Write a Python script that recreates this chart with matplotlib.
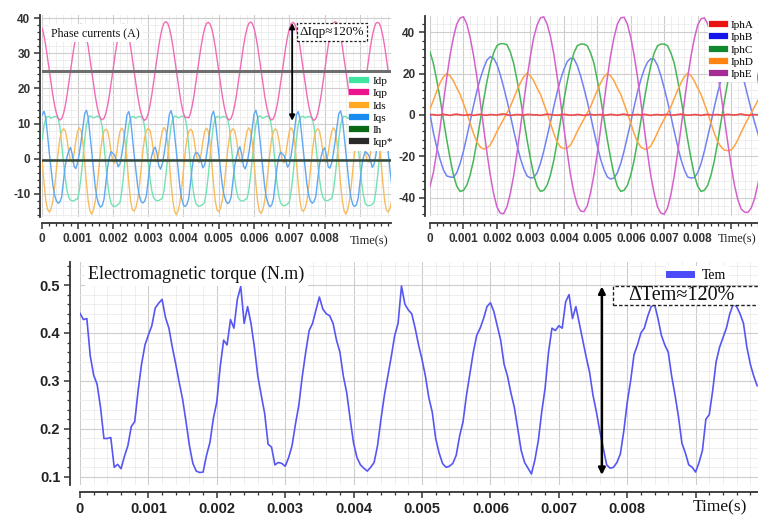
import numpy as np
import matplotlib
matplotlib.use('Agg')
import matplotlib.pyplot as plt
from matplotlib.lines import Line2D
from matplotlib.patches import Rectangle
from matplotlib.ticker import MultipleLocator, FuncFormatter
from matplotlib import font_manager as fm

plt.rcParams['axes.unicode_minus'] = False

# ---------------- data: top-left (dq currents), step 0.05 ms ----------------
DT_TL = 0.00005
iqp = [37.1, 34.9, 32.0, 28.6, 25.0, 21.4, 18.0, 15.1, 12.9, 11.5,
       11.0, 11.4, 12.8, 15.0, 18.0, 21.4, 25.0, 28.6, 31.9, 34.7, 36.9, 38.0, 38.3, 38.0, 36.9, 34.7, 31.9, 28.5, 24.9, 21.3, 17.9, 15.0, 12.8, 11.4,
       11.1, 11.5, 12.9, 15.1, 18.0, 21.4, 25.0, 28.6, 31.9, 34.7, 36.9, 38.0, 38.3, 38.0, 36.9, 34.8, 32.0, 28.6, 25.0, 21.4, 18.0, 15.1, 12.9, 11.5,
       10.9, 11.4, 12.8, 15.1, 18.0, 21.5, 25.1, 28.7, 32.1, 35.0, 37.3, 38.6, 39.0, 38.6, 37.2, 34.9, 32.0, 28.6, 25.0, 21.4, 18.0, 15.1, 12.9, 11.7,
       11.8, 11.6, 13.0, 15.2, 18.1, 21.5, 25.1, 28.7, 32.0, 34.9, 37.1, 38.5, 38.8, 38.4, 37.0, 34.8, 31.9, 28.5, 24.9, 21.3, 17.9, 15.0, 12.8, 11.4,
       11.0, 11.5, 12.9, 15.1, 18.0, 21.4, 25.0, 28.6, 32.0, 34.9, 37.1, 38.5, 38.9, 38.5, 37.1, 34.9, 32.0, 28.6, 25.0, 21.4, 18.0, 15.1, 12.9, 11.5,
       11.0, 11.4, 12.8, 15.0, 17.9, 21.3, 24.9, 28.5, 31.9, 34.8, 37.0, 38.4, 38.8, 38.4, 37.0, 34.8, 31.9, 28.5, 24.9, 21.3, 17.9, 15.0, 12.8, 11.4,
       10.9, 11.4, 12.8, 15.1, 18.0, 21.4, 25.0, 28.7, 32.1, 35.0, 37.2, 38.6, 39.0, 38.6, 37.2, 34.9, 32.0, 28.6, 25.0, 21.4, 18.0, 15.1, 12.9, 11.5,
       11.0, 11.5, 12.9, 15.1, 18.0, 21.4, 25.0, 28.6, 32.0, 34.9, 37.1, 38.5, 38.8, 38.5, 37.1, 34.9, 32.0, 28.6, 25.0, 21.4, 18.0]

iqs = [12.5,
       13.5, 11.5, 6.5, 1.5, -3.0, -7.5, -10.5, -12.0, -12.7, -12.3, -10.8, -6.5, -2.0, 0.5, 2.2, 3.2, 1.2, -2.2, -2.8, -1.2, 1.5, 5.0, 9.0, 12.8,
       13.8, 11.8, 7.0, 2.0, -3.0, -8.0, -11.2, -13.0, -13.8, -13.3, -11.5, -7.0, -2.5, 0.5, 2.0, 1.5, 1.0, -0.5, -2.3, -1.5, 1.0, 4.5, 8.5, 12.5,
       13.4, 11.3, 6.3, 1.3, -3.2, -7.6, -10.6, -12.2, -12.6, -12.1, -10.5, -6.2, -1.8, 0.8, 2.5, 3.3, 1.5, -2.0, -3.0, -1.5, 1.2, 4.8, 8.8, 12.6,
       13.7, 11.6, 6.8, 1.8, -3.3, -8.2, -11.4, -13.2, -13.6, -13.0, -11.2, -6.8, -2.2, 0.6, 1.8, 1.6, 0.8, -0.8, -2.6, -1.8, 0.8, 4.3, 8.3, 12.4,
       13.5, 11.4, 6.4, 1.4, -3.1, -7.5, -10.4, -12.0, -12.8, -12.4, -10.9, -6.6, -2.1, 0.4, 2.3, 3.4, 1.3, -2.1, -2.9, -1.3, 1.4, 4.9, 8.9, 12.7,
       13.8, 11.9, 7.1, 2.1, -2.9, -7.9, -11.1, -12.9, -13.7, -13.2, -11.4, -6.9, -2.4, 0.4, 1.9, 1.4, 0.9, -0.6, -2.4, -1.6, 0.9, 4.4, 8.4, 12.5,
       13.4, 11.5, 6.6, 1.6, -2.9, -7.4, -10.5, -12.1, -12.7, -12.2, -10.7, -6.4, -1.9, 0.6, 2.4, 3.1, 1.1, -2.3, -2.7, -1.1, 1.6, 5.1, 9.1, 12.8,
       13.6, 11.7, 6.9, 1.9, -3.1, -8.1, -11.3, -13.1, -13.6, -13.1, -11.3, -6.9, -2.3, 0.5, 2.0, 1.6, 1.0, -0.6, -2.5, -1.6, 0.9, 4.5, 8.5, 12.6,
       13.4, 11.4, 6.5, 1.5, -3.0, -7.4]

idp = [5.5,
       9.5, 11.5, 12.0, 12.0, 11.5, 11.8, 12.0, 12.0, 11.5, 9.0, 4.0, -1.0, -5.5, -9.0, -11.0, -11.8, -12.0, -12.0, -11.5, -11.5, -9.0, -5.0,
       0.0, 5.5, 9.5, 11.5, 12.2, 12.0, 11.6, 11.8, 12.1, 12.0, 11.4, 8.8, 3.5, -2.0, -7.0, -10.5, -12.8, -13.5, -13.6, -13.4, -13.0, -12.5, -9.5, -5.0,
       0.2, 5.7, 9.6, 11.6, 12.0, 11.9, 11.5, 11.9, 12.0, 11.9, 11.4, 9.0, 4.0, -1.0, -5.5, -9.0, -11.0, -11.7, -12.0, -11.9, -11.6, -11.3, -9.0, -4.8,
       0.0, 5.4, 9.4, 11.4, 12.1, 12.0, 11.6, 11.8, 12.1, 12.0, 11.5, 8.7, 3.4, -2.0, -7.0, -10.6, -12.7, -13.4, -13.5, -13.3, -13.0, -12.4, -9.4, -5.0,
       0.1, 5.6, 9.5, 11.5, 12.0, 11.9, 11.6, 11.9, 12.0, 11.8, 11.3, 9.0, 4.0, -1.0, -5.6, -9.0, -11.0, -11.8, -12.1, -12.0, -11.6, -11.4, -9.1, -5.0,
       0.0, 5.5, 9.5, 11.5, 12.2, 12.0, 11.5, 11.8, 12.1, 12.0, 11.4, 8.8, 3.6, -2.0, -7.0, -10.5, -12.6, -13.2, -13.4, -13.2, -12.9, -12.3, -9.4, -5.0,
       0.1, 5.6, 9.6, 11.6, 12.0, 12.0, 11.6, 11.9, 12.0, 11.9, 11.4, 9.0, 4.0, -1.0, -5.5, -9.0, -11.0, -11.8, -12.0, -11.9, -11.5, -11.4, -9.0, -4.9,
       0.0, 5.5, 9.5, 11.5, 12.1, 12.0, 11.5, 11.8, 12.0, 12.0, 11.5, 8.8, 3.5, -2.0, -7.0, -10.5, -12.7, -13.3, -13.4, -13.3, -13.0, -12.4, -9.4, -5.0,
       0.0, 5.5, 9.5, 11.5, 12.0, 12.0, 11.6, 11.8]

ids = [-1.0, -7.0, -12.0, -14.5,
       -15.2, -14.2, -12.0, -8.0, -3.0, 2.0, 5.8, 7.8, 8.5, 8.0, 5.5, 2.0, -0.5, -1.0, 1.5, 5.0, 7.8, 8.8, 8.0, 4.5, -1.0, -7.0, -12.0, -14.8,
       -15.8, -14.6, -12.2, -8.1, -3.0, 2.1, 5.9, 7.9, 8.4, 7.9, 5.4, 1.8, -0.8, -1.3, 1.2, 4.8, 7.7, 8.7, 8.0, 4.6, -0.8, -6.8, -11.8, -14.5,
       -14.9, -14.0, -11.8, -7.8, -2.8, 2.2, 6.0, 8.0, 8.6, 8.1, 5.6, 2.1, -0.4, -0.9, 1.6, 5.1, 7.9, 8.9, 8.1, 4.6, -1.0, -7.1, -12.2, -15.0,
       -16.0, -14.8, -12.3, -8.2, -3.1, 1.9, 5.7, 7.7, 8.4, 7.9, 5.4, 1.9, -0.6, -1.1, 1.4, 4.9, 7.7, 8.7, 7.9, 4.4, -1.1, -7.0, -12.0, -14.6,
       -15.1, -14.1, -11.9, -7.9, -2.9, 2.1, 5.9, 7.9, 8.5, 8.0, 5.5, 2.0, -0.5, -1.0, 1.5, 5.0, 7.8, 8.8, 8.0, 4.5, -1.0, -7.0, -12.1, -14.9,
       -15.6, -14.5, -12.1, -8.0, -3.0, 2.0, 5.8, 7.8, 8.5, 8.0, 5.5, 2.0, -0.6, -1.2, 1.3, 4.9, 7.8, 8.8, 8.0, 4.5, -0.9, -6.9, -11.9, -14.6,
       -15.0, -14.0, -11.9, -7.9, -2.9, 2.1, 5.9, 7.9, 8.5, 8.0, 5.5, 2.0, -0.5, -1.0, 1.5, 5.0, 7.8, 8.8, 8.0, 4.5, -1.0, -7.0, -12.0, -14.8,
       -15.8, -14.6, -12.2, -8.1, -3.0, 2.0, 5.8, 7.8, 8.5, 8.0, 5.5, 2.0, -0.5, -1.0, 1.5, 5.0, 7.8, 8.8, 8.0, 4.5, -1.0, -7.0, -12.0, -14.6,
       -15.2, -14.2, -12.0]

IQP_REF = 25.0   # Iqp* reference level
IH_LEVEL = -0.3  # Ih (about zero)

# ---------------- data: top-right (phase currents), step 0.1 ms ----------------
DT_TR = 0.0001
ipha = [0.1, 0.2, -0.1, 0.0, 0.3, 0.1, -0.2, 0.2, 0.4, 0.1,
        -0.1, 0.0, 0.2, -0.2, 0.1, 0.3, 0.0, -0.1, 0.2, 0.1,
        0.0, 0.3, 0.5, 0.1, -0.2, 0.0, 0.2, 0.1, -0.1, 0.3,
        0.2, 0.0, 0.1, -0.2, 0.1, 0.4, 0.2, 0.0, -0.1, 0.1,
        0.3, 0.1, -0.1, 0.0, 0.2, 0.1, -0.2, 0.1, 0.3, 0.0,
        0.1, 0.2, -0.1, 0.0, 0.3, 0.1, -0.1, 0.2, 0.4, 0.0,
        -0.1, 0.1, 0.2, 0.0, 0.3, 0.1, -0.2, 0.1, 0.2, 0.0,
        0.1, 0.3, -0.1, 0.0, 0.2, 0.4, 0.1, -0.1, 0.0, 0.2,
        0.1, -0.2, 0.1, 0.3, 0.0, 0.1, 0.2, -0.1, 0.0, 0.3,
        0.1, 0.0, 0.2, 0.5, 0.1, -0.1, 0.0, 0.2, 0.1, 0.0]
iphb = [0.5, -8.5, -15.5, -21.5, -26.5, -29.5, -30.0, -30.2, -28.0, -23.5, -17.5, -10.5, -3.0, 4.5, 11.5, 17.5, 22.5, 26.5, 28.2, 27.5, 24.5, 19.5, 13.5, 7.0,
        0.0, -7.5, -14.5, -21.0, -26.0, -29.5, -30.5, -30.3, -28.0, -23.5, -17.5, -10.5, -3.5, 4.0, 11.0, 17.0, 22.0, 25.8, 27.5, 27.2, 24.0, 19.0, 13.0, 6.5,
        -0.5, -8.0, -15.0, -21.5, -26.5, -30.0, -31.0, -30.5, -28.0, -23.5, -17.5, -10.5, -3.5, 4.0, 11.0, 17.0, 22.0, 25.5, 27.2, 27.0, 24.0, 19.0, 13.0, 6.5,
        -0.5, -8.0, -15.0, -21.5, -26.5, -30.0, -30.5, -30.3, -28.0, -23.5, -17.5, -10.5, -3.5, 4.0, 11.0, 17.0, 22.0, 25.5, 26.0, 27.3, 25.5, 21.0, 15.5, 9.0,
        2.5, -3.5, -9.0, -15.0]
iphc = [30.5, 25.0, 17.0, 8.0, -2.0, -12.0, -21.0, -29.0, -34.5, -37.0, -36.5, -34.0, -29.0, -22.0, -13.0, -3.0, 7.0, 16.0, 24.0, 30.0, 33.5, 34.5,
        34.5, 34.0, 30.5, 25.0, 17.0, 8.0, -2.0, -12.0, -21.0, -29.0, -34.5, -37.0, -36.5, -34.0, -29.0, -22.0, -13.0, -3.0, 7.0, 16.0, 24.0, 30.0, 33.5, 34.3,
        34.3, 33.5, 30.0, 25.0, 17.0, 8.0, -2.0, -12.0, -21.0, -29.0, -34.5, -37.0, -36.5, -34.0, -29.0, -22.0, -13.0, -3.0, 7.0, 16.0, 24.0, 30.0, 33.5, 34.3,
        34.3, 33.5, 30.0, 25.0, 17.0, 8.0, -2.0, -12.0, -21.0, -29.0, -34.5, -37.0, -36.5, -34.0, -29.0, -22.0, -13.0, -3.0, 7.0, 16.0, 24.0, 30.0, 33.5, 34.5,
        34.5, 33.5, 30.5, 25.0, 17.0, 8.0]
iphd = [3.0, 7.0, 11.5, 15.5, 18.5,
        20.0, 19.0, 16.5, 13.0, 10.0, 5.5, 1.0, -4.0, -9.0, -13.0, -15.5, -16.5, -16.0, -14.5, -11.5, -8.0, -5.0, -2.0, 1.0, 4.0, 8.0, 12.0, 15.5, 18.5,
        20.2, 19.0, 16.5, 13.0, 10.0, 5.5, 1.0, -4.0, -9.0, -13.0, -15.5, -16.3, -16.0, -14.5, -11.5, -8.0, -5.0, -2.0, 1.0, 4.0, 8.0, 12.0, 15.5, 18.5,
        20.0, 19.0, 16.5, 13.0, 10.0, 5.5, 1.0, -4.0, -9.0, -13.0, -15.5, -16.5, -16.5, -15.0, -12.0, -8.5, -5.0, -2.0, 1.0, 4.0, 8.0, 12.0, 15.5, 18.5,
        20.2, 19.0, 16.5, 13.0, 10.0, 5.5, 1.0, -4.0, -9.0, -13.0, -15.5, -17.0, -17.3, -17.0, -15.0, -12.0, -8.5, -5.0, -2.0, 1.0, 4.0, 7.0, 10.0]
iphe = [-34.5, -28.0, -18.0, -6.5, 6.0, 18.0, 29.0, 37.5, 44.0, 47.0, 47.5, 44.0, 37.5, 29.0, 18.5, 6.5, -6.0, -18.0, -29.0, -38.0, -44.5, -47.5, -47.8, -44.5,
        -38.0, -29.5, -18.5, -6.5, 6.0, 18.0, 28.5, 37.5, 43.5, 47.0, 47.5, 44.0, 38.0, 29.5, 18.5, 6.5, -6.0, -18.0, -29.0, -37.5, -43.5, -46.5, -46.8, -44.0,
        -37.5, -29.0, -18.5, -6.5, 6.0, 18.0, 29.0, 37.5, 44.0, 47.0, 47.3, 44.0, 37.5, 29.0, 18.5, 6.5, -6.0, -18.5, -29.5, -38.0, -44.5, -47.5, -48.0, -45.0,
        -38.5, -29.5, -18.5, -6.5, 6.0, 18.0, 28.5, 37.0, 43.5, 46.5, 47.0, 44.0, 38.0, 30.0, 20.5, 9.5, -2.0, -13.5, -24.5, -34.0, -41.0, -45.5, -47.0, -47.2,
        -45.0, -40.5, -33.5, -25.0]

# ---------------- data: bottom (electromagnetic torque), step 0.05 ms ----------------
DT_B = 0.00005
tem = [0.441, 0.428, 0.430, 0.352, 0.312, 0.293, 0.245, 0.180, 0.180, 0.182,
       0.120, 0.126, 0.117, 0.143, 0.165, 0.205, 0.215, 0.280, 0.335, 0.375,
       0.396, 0.415, 0.452, 0.462, 0.470, 0.432, 0.410, 0.370, 0.335, 0.297,
       0.262, 0.215, 0.165, 0.128, 0.112, 0.109, 0.110, 0.145, 0.172, 0.222,
       0.256, 0.330, 0.385, 0.375, 0.428, 0.410, 0.470, 0.497, 0.420, 0.455,
       0.420, 0.370, 0.310, 0.270, 0.232, 0.168, 0.162, 0.125, 0.130, 0.128,
       0.122, 0.140, 0.165, 0.210, 0.250, 0.310, 0.360, 0.405, 0.420, 0.448,
       0.475, 0.450, 0.440, 0.436, 0.420, 0.385, 0.360, 0.310, 0.275, 0.220,
       0.170, 0.140, 0.125, 0.118, 0.112, 0.120, 0.130, 0.165, 0.220, 0.270,
       0.310, 0.350, 0.394, 0.420, 0.498, 0.460, 0.448, 0.440, 0.410, 0.375,
       0.345, 0.310, 0.265, 0.235, 0.180, 0.150, 0.128, 0.120, 0.122, 0.128,
       0.145, 0.185, 0.215, 0.270, 0.315, 0.360, 0.395, 0.410, 0.430, 0.455,
       0.463, 0.445, 0.415, 0.385, 0.335, 0.310, 0.275, 0.245, 0.200, 0.155,
       0.130, 0.118, 0.106, 0.135, 0.175, 0.235, 0.285, 0.360, 0.410, 0.405,
       0.415, 0.410, 0.465, 0.480, 0.430, 0.455, 0.420, 0.385, 0.350, 0.318,
       0.270, 0.235, 0.195, 0.160, 0.125, 0.118, 0.120, 0.130, 0.148, 0.195,
       0.255, 0.300, 0.355, 0.375, 0.400, 0.410, 0.435, 0.455, 0.460, 0.430,
       0.395, 0.375, 0.360, 0.310, 0.270, 0.225, 0.170, 0.150, 0.125, 0.120,
       0.110, 0.130, 0.155, 0.220, 0.230, 0.280, 0.340, 0.370, 0.390, 0.410,
       0.440, 0.460, 0.455, 0.440, 0.420, 0.370, 0.335, 0.310, 0.290]

# ---------------- figure ----------------
W, H = 758, 518
fig = plt.figure(figsize=(W / 100, H / 100), dpi=100)

names = {f.name for f in fm.fontManager.ttflist}
NARROW = 'Liberation Sans Narrow' if 'Liberation Sans Narrow' in names else 'Liberation Sans'
SANS = 'Liberation Sans'
SERIF = 'Liberation Serif'


def px_axes(l, t, r, b):
    return fig.add_axes([l / W, 1 - b / H, (r - l) / W, (b - t) / H])


def tgrid(vals, dt):
    return np.arange(len(vals)) * dt


def xfmt(v, p):
    if abs(v) < 1e-12:
        return '0'
    if v > 0.0085:
        return ''
    return f'{v:.3f}'


def style(ax, ymaj, ymin, loff, boff, font, size, weight, color, yfmt):
    for s in ['top', 'right']:
        ax.spines[s].set_visible(False)
    for s in ['left', 'bottom']:
        ax.spines[s].set_color('#333333')
        ax.spines[s].set_linewidth(1.3)
    ax.spines['left'].set_position(('outward', loff))
    ax.spines['bottom'].set_position(('outward', boff))
    ax.xaxis.set_major_locator(MultipleLocator(0.001))
    ax.xaxis.set_minor_locator(MultipleLocator(0.0002))
    ax.yaxis.set_major_locator(MultipleLocator(ymaj))
    ax.yaxis.set_minor_locator(MultipleLocator(ymin))
    ax.xaxis.set_major_formatter(FuncFormatter(xfmt))
    ax.yaxis.set_major_formatter(FuncFormatter(yfmt))
    ax.grid(which='major', color='#cdcdcd', lw=0.8)
    ax.grid(which='minor', color='#ebebeb', lw=0.6)
    ax.set_axisbelow(True)
    ax.tick_params(which='major', length=4.5, width=1.1, color='#333333',
                   labelsize=size, labelcolor=color, pad=2.5)
    ax.tick_params(which='minor', length=2.5, width=0.9, color='#333333')
    plt.setp(ax.get_xticklabels() + ax.get_yticklabels(), family=font, weight=weight)


# ---- top-left ----
ax1 = px_axes(42.3, 15, 391, 217)
ax1.set_xlim(0, 0.00988)
ax1.set_ylim(-16.6, 40.9)
ax1.axhline(IQP_REF, color='#6e6e6e', lw=2.2, zorder=3)
ax1.plot(tgrid(idp, DT_TL), idp, color='#74e2b2', lw=1.0, zorder=2)
ax1.plot(tgrid(ids, DT_TL), ids, color='#f8bb5e', lw=1.0, zorder=2)
ax1.plot(tgrid(iqs, DT_TL), iqs, color='#5ea8f2', lw=1.0, zorder=2)
ax1.plot(tgrid(iqp, DT_TL), iqp, color='#f06cb6', lw=1.0, zorder=2)
ax1.axhline(IH_LEVEL, color='#33483a', lw=1.8, zorder=3)
style(ax1, 10, 2, 1.5, 4.3, NARROW, 8.5, 'bold', '#333333', lambda v, p: f'{v:.0f}')
ax1.text(0.00927, -0.12, 'Time(s)', transform=ax1.get_xaxis_transform(),
         family=SERIF, fontsize=9, ha='center', va='center', color='#222222')
ax1.text(0.00025, 35.8, 'Phase currents (A)', family=SERIF, fontsize=8.6, color='#111111',
         va='center', ha='left', zorder=6,
         bbox=dict(boxstyle='square,pad=0.25', fc='white', ec='none'))
ax1.text(0.0082, 36.1, 'ΔIqp≈120%', family=SERIF, fontsize=9.5, color='#111111',
         va='center', ha='center', zorder=6,
         bbox=dict(boxstyle='square,pad=0.2', fc='white', ec='#222222', ls=(0, (2, 1.5)), lw=0.9))
ax1.annotate('', xy=(0.00708, 38.6), xytext=(0.00708, 10.8),
             arrowprops=dict(arrowstyle='<|-|>', color='black', lw=1.3,
                             mutation_scale=8, shrinkA=0, shrinkB=0), zorder=7)
h1 = [Line2D([], [], color=c, lw=4.5) for c in
      ['#3ee6a0', '#ec148c', '#ffa820', '#1a8cf0', '#0a6a14', '#2a2a2a']]
leg1 = ax1.legend(h1, ['Idp', 'Iqp', 'Ids', 'Iqs', 'Ih', 'Iqp*'],
                  loc='upper left', bbox_to_anchor=(349 / W, 1 - 73 / H),
                  bbox_transform=fig.transFigure, prop={'family': SERIF, 'size': 8},
                  frameon=True, framealpha=1, edgecolor='none', fancybox=False,
                  handlelength=1.2, handletextpad=0.6, labelspacing=0.22,
                  borderpad=0.3, borderaxespad=0)
leg1.set_zorder(8)

# ---- top-right ----
ax2 = px_axes(430, 16, 430 + 0.0101 * 33460, 216)
ax2.set_xlim(0, 0.0101)
ax2.set_ylim(-48.9, 47.9)
ax2.plot(tgrid(iphb, DT_TR), iphb, color='#7282f2', lw=1.1, zorder=2)
ax2.plot(tgrid(iphc, DT_TR), iphc, color='#46b656', lw=1.1, zorder=2)
ax2.plot(tgrid(iphd, DT_TR), iphd, color='#ffa344', lw=1.1, zorder=2)
ax2.plot(tgrid(iphe, DT_TR), iphe, color='#d462cc', lw=1.1, zorder=2)
ax2.plot(tgrid(ipha, DT_TR), ipha, color='#f04a4a', lw=1.2, zorder=3)
style(ax2, 20, 4, 3.6, 5.0, NARROW, 8.5, 'bold', '#333333', lambda v, p: f'{v:.0f}')
ax2.text(756 / W, 1 - 239 / H, 'Time(s)', transform=fig.transFigure,
         family=SERIF, fontsize=9, ha='right', va='center', color='#222222')
h2 = [Line2D([], [], color=c, lw=4.5) for c in
      ['#e81414', '#1414ea', '#12882e', '#ff8414', '#a42c94']]
leg2 = ax2.legend(h2, ['IphA', 'IphB', 'IphC', 'IphD', 'IphE'],
                  loc='upper right', bbox_to_anchor=(757 / W, 1 - 17 / H),
                  bbox_transform=fig.transFigure, prop={'family': SERIF, 'size': 8},
                  frameon=True, framealpha=1, edgecolor='none', fancybox=False,
                  handlelength=1.2, handletextpad=0.5, labelspacing=0.22,
                  borderpad=0.3, borderaxespad=0)
leg2.set_zorder(8)

# ---- bottom ----
ax3 = px_axes(80, 262, 80 + 0.0102 * 68400, 485)
ax3.set_xlim(0, 0.0102)
ax3.set_ylim(0.083, 0.548)
ax3.plot(tgrid(tem, DT_B), tem, color='#5656f4', lw=1.2, zorder=2)
style(ax3, 0.1, 0.02, 7.2, 5.0, SANS, 10.5, 'bold', '#222222', lambda v, p: f'{v:.1f}')
ax3.text(0.00935, -0.1, 'Time(s)', transform=ax3.get_xaxis_transform(),
         family=SERIF, fontsize=12.5, ha='center', va='center', color='#111111')
ax3.text(0.00012, 0.523, 'Electromagnetic torque (N.m)', family=SERIF, fontsize=13,
         color='#111111', va='center', ha='left', zorder=6,
         bbox=dict(boxstyle='square,pad=0.2', fc='white', ec='none'))
ax3.add_patch(Rectangle((0.00779, 0.4576), 0.0025, 0.0404, fc='white', ec='#222222',
                        ls=(0, (2.5, 1.5)), lw=1.0, zorder=6))
ax3.text(0.00801, 0.4775, 'ΔTem≈120%', family=SERIF, fontsize=14.5, color='#111111',
         va='center', ha='left', zorder=7)
ax3.annotate('', xy=(0.00763, 0.497), xytext=(0.00763, 0.104),
             arrowprops=dict(arrowstyle='<|-|>', color='black', lw=1.8,
                             mutation_scale=10, shrinkA=0, shrinkB=0), zorder=7)
h3 = [Line2D([], [], color='#4a4af8', lw=5)]
leg3 = ax3.legend(h3, ['Tem'], loc='upper left', bbox_to_anchor=(666 / W, 1 - 266 / H),
                  bbox_transform=fig.transFigure, prop={'family': SERIF, 'size': 10},
                  frameon=True, framealpha=1, edgecolor='none', fancybox=False,
                  handlelength=1.6, handletextpad=0.8, borderpad=0.2, borderaxespad=0)
leg3.set_zorder(8)

fig.savefig('out.png', dpi=100)
